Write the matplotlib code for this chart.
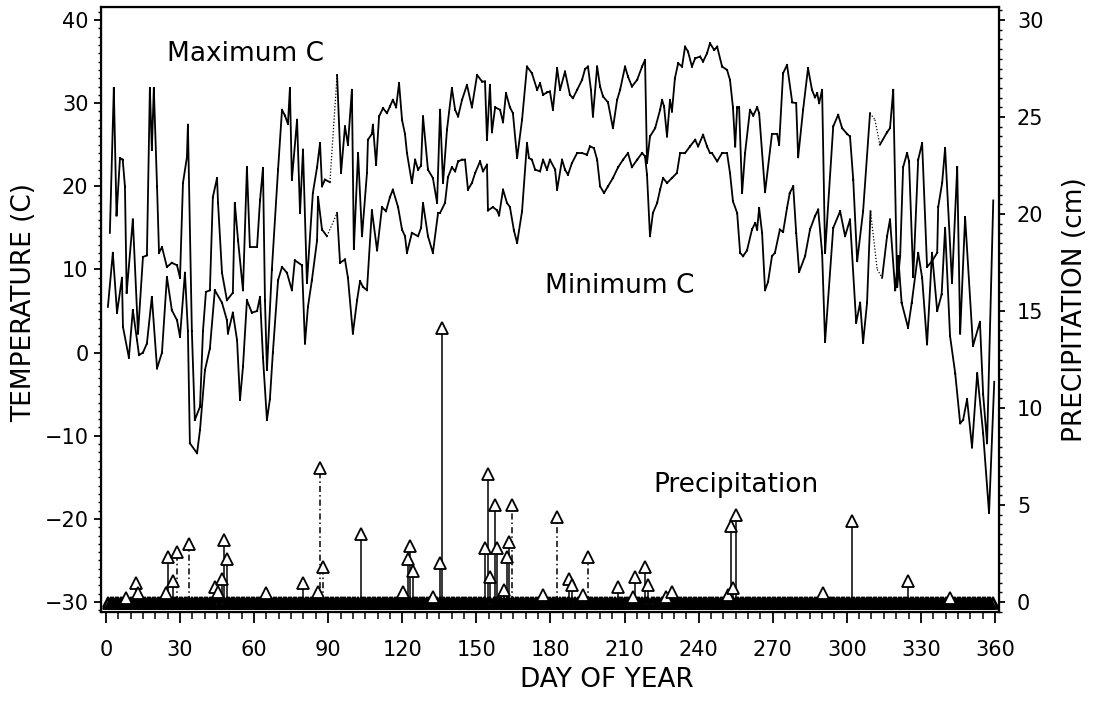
import matplotlib
matplotlib.use('Agg')
import matplotlib.pyplot as plt
import numpy as np
from matplotlib.ticker import MultipleLocator

plt.rcParams['font.family'] = ['DejaVu Sans']

# daily maximum temperature (C)
max_day = [1.6, 3.2, 4.3, 5.7, 6.8, 7.7, 8.4, 10.9, 13.0, 15.0,
           16.6, 17.8, 18.6, 19.4, 20.7, 21.5, 22.7, 24.7, 26.7, 28.8,
           30.0, 31.2, 32.8, 33.2, 34.8, 36.0, 38.1, 39.3, 40.5, 42.1,
           43.3, 45.0, 45.4, 47.0, 49.0, 51.4, 52.2, 53.5, 55.5, 57.1,
           58.3, 61.2, 62.4, 63.6, 64.4, 65.2, 67.2, 69.7, 71.3, 72.5,
           73.7, 74.5, 75.3, 77.4, 78.6, 79.8, 81.4, 83.8, 85.5, 86.7,
           87.5, 88.7, 90.7, 93.6, 95.2, 96.8, 98.0, 99.6, 100.4, 102.1,
           103.7, 105.7, 106.1, 107.7, 108.1, 109.4, 110.6, 112.2, 113.8, 115.0,
           116.2, 117.5, 118.7, 119.9, 121.1, 121.9, 123.9, 125.2, 126.4, 127.6,
           128.4, 130.4, 132.4, 134.1, 135.3, 136.5, 138.1, 140.1, 141.4, 142.6,
           144.2, 146.2, 148.2, 150.3, 152.3, 153.5, 154.3, 155.5, 156.3, 157.6,
           159.6, 160.8, 162.0, 163.6, 164.8, 166.5, 168.5, 170.5, 172.5, 174.6,
           175.8, 177.0, 178.6, 179.8, 181.0, 182.7, 183.9, 185.9, 187.9, 189.1,
           190.8, 192.8, 194.0, 195.2, 196.4, 197.2, 198.9, 200.1, 201.3, 203.3,
           205.3, 207.0, 208.2, 210.2, 211.4, 213.0, 215.1, 217.1, 218.3, 219.1,
           220.3, 222.4, 224.4, 225.2, 226.0, 227.2, 228.4, 229.2, 230.4, 231.7,
           233.3, 234.5, 235.7, 237.3, 238.6, 240.6, 241.8, 243.4, 244.6, 246.3,
           247.5, 249.5, 251.5, 252.7, 253.9, 254.8, 255.6, 256.4, 257.6, 258.8,
           260.8, 262.1, 263.7, 264.5, 266.9, 269.7, 271.8, 272.6, 274.2, 275.8,
           277.9, 279.5, 280.3, 282.3, 284.3, 285.9, 287.1, 288.0, 288.8, 290.0,
           291.2, 294.5, 296.5, 298.1, 300.1, 301.3, 302.6, 304.2, 306.6, 309.4,
           311.4, 313.4, 316.3, 317.5, 318.8, 320.4, 321.6, 322.8, 324.4, 325.2,
           326.9, 328.9, 330.5, 332.5, 334.5, 336.6, 337.0, 338.6, 339.8, 342.6,
           344.7, 345.9, 347.9, 351.1, 353.9, 355.2, 356.8, 359.3]
max_c = [14.4, 31.8, 16.5, 23.4, 23.2, 20.0, 7.2, 16.0, 2.3, 11.5,
         11.7, 31.8, 24.4, 31.8, 20.0, 12.0, 12.7, 10.3, 10.8, 10.5,
         9.0, 20.4, 23.5, 27.4, 2.6, -8.1, -6.5, 2.6, 7.3, 7.5,
         18.7, 21.0, 18.0, 9.6, 6.3, 7.2, 18.0, 13.5, 7.5, 22.3,
         12.7, 12.7, 18.3, 22.2, 6.3, -2.1, 10.0, 22.0, 29.2, 28.5,
         27.5, 31.8, 20.8, 28.0, 16.8, 24.4, 8.4, 19.2, 22.3, 25.2,
         20.0, 20.8, 20.5, 33.4, 21.6, 27.2, 25.0, 31.6, 12.5, 24.0,
         14.0, 21.6, 25.6, 26.3, 27.4, 22.6, 28.4, 29.4, 28.8, 29.6,
         30.4, 29.5, 32.4, 28.0, 26.3, 24.0, 20.4, 23.2, 22.0, 22.5,
         28.4, 22.0, 21.0, 18.0, 29.2, 20.4, 26.8, 31.8, 29.2, 28.4,
         30.4, 32.2, 29.5, 33.4, 32.6, 32.6, 25.6, 32.2, 26.5, 29.5,
         29.2, 27.7, 31.2, 29.5, 28.8, 23.4, 28.0, 34.4, 33.6, 31.6,
         32.4, 31.0, 31.3, 31.4, 29.2, 34.2, 31.6, 33.8, 31.0, 30.6,
         31.6, 32.8, 34.1, 34.4, 31.6, 28.4, 34.4, 32.0, 30.8, 30.1,
         27.0, 30.4, 31.6, 34.4, 33.2, 32.0, 32.8, 34.4, 35.2, 22.8,
         26.0, 27.0, 29.2, 30.4, 29.6, 26.0, 30.4, 29.0, 33.0, 34.8,
         34.4, 36.8, 36.2, 34.4, 35.4, 35.6, 35.0, 36.0, 37.2, 36.4,
         36.8, 34.4, 34.0, 32.8, 29.5, 24.8, 29.5, 29.5, 19.2, 24.0,
         29.2, 28.5, 29.5, 28.8, 19.3, 26.3, 26.3, 25.0, 33.6, 34.6,
         30.1, 30.0, 23.5, 29.2, 34.2, 31.6, 30.7, 31.2, 30.0, 31.6,
         12.0, 27.2, 28.6, 27.0, 26.3, 26.0, 20.8, 11.0, 17.0, 28.8,
         28.0, 25.0, 26.5, 27.0, 31.6, 7.9, 11.6, 22.3, 24.0, 23.0,
         9.1, 23.2, 25.2, 10.3, 11.0, 12.0, 17.5, 20.4, 24.6, 8.4,
         22.3, 2.3, 16.3, 0.8, 3.7, -5.0, -10.9, 18.3]

# daily minimum temperature (C)
min_day = [0.8, 2.8, 4.5, 6.5, 6.9, 9.3, 10.9, 12.6, 13.4, 15.0,
           16.6, 18.6, 20.7, 22.7, 24.7, 26.7, 28.8, 30.0, 32.0, 33.2,
           34.0, 36.9, 38.1, 40.1, 42.1, 44.1, 47.0, 49.0, 49.4, 51.4,
           53.1, 54.3, 55.5, 57.1, 59.1, 61.2, 62.4, 63.6, 65.2, 66.4,
           67.6, 69.7, 71.3, 73.3, 75.3, 76.5, 79.4, 80.6, 81.8, 83.4,
           85.5, 85.9, 87.5, 89.5, 93.6, 94.8, 96.8, 98.0, 100.0, 101.7,
           102.9, 104.1, 105.7, 107.7, 109.8, 111.8, 113.4, 115.0, 116.2, 118.3,
           119.9, 121.1, 121.9, 123.9, 126.4, 127.6, 128.4, 130.4, 132.4, 134.5,
           135.3, 137.3, 138.5, 140.1, 141.4, 142.6, 144.2, 145.4, 146.6, 148.2,
           149.5, 151.5, 152.7, 154.3, 154.7, 156.7, 158.4, 159.2, 160.8, 162.4,
           163.6, 165.2, 166.5, 168.5, 170.5, 171.3, 172.5, 173.8, 175.8, 177.0,
           178.6, 179.8, 181.9, 182.7, 184.7, 185.9, 187.1, 188.7, 190.8, 192.8,
           194.8, 196.0, 197.6, 198.9, 200.1, 201.7, 203.3, 205.3, 207.4, 209.4,
           211.4, 213.0, 215.1, 217.1, 218.3, 219.1, 220.3, 221.5, 223.2, 224.4,
           225.6, 227.2, 229.2, 231.2, 232.5, 234.5, 236.5, 238.6, 239.8, 241.8,
           243.4, 244.6, 245.4, 247.5, 249.5, 251.5, 252.7, 253.9, 255.6, 256.8,
           258.0, 259.6, 261.6, 262.9, 263.7, 264.5, 265.7, 266.9, 268.1, 269.7,
           270.9, 272.9, 274.2, 275.8, 276.9, 278.3, 279.5, 280.7, 283.1, 285.1,
           287.1, 288.4, 290.0, 291.2, 294.5, 297.3, 299.3, 301.3, 303.8, 305.4,
           306.6, 308.2, 309.6, 312.3, 314.3, 316.3, 317.5, 319.6, 320.8, 322.2,
           324.8, 326.3, 328.9, 330.5, 332.5, 334.5, 336.6, 338.4, 339.8, 341.8,
           343.9, 345.9, 347.1, 348.7, 350.7, 352.8, 355.2, 357.6, 359.7]
min_c = [5.5, 12.0, 4.8, 9.0, 3.1, -0.6, 5.1, 1.5, -0.3, 0.0,
         1.1, 6.7, -1.9, 0.0, 9.1, 5.1, 3.9, 1.9, 9.6, 2.6,
         -10.9, -12.1, -9.3, -2.1, 0.5, 7.5, 6.0, 3.9, 2.3, 4.8,
         1.5, -5.7, -1.7, 6.3, 4.8, 5.0, 6.7, -0.6, -8.1, -5.6,
         0.0, 8.7, 10.3, 9.6, 7.5, 11.1, 10.5, 1.1, 5.5, 8.7,
         13.5, 18.7, 14.8, 14.0, 16.8, 10.8, 11.2, 9.0, 2.3, 6.3,
         8.6, 7.9, 7.5, 17.1, 12.3, 17.5, 17.0, 18.7, 19.6, 17.5,
         14.8, 14.0, 12.0, 14.4, 14.0, 15.0, 18.0, 14.0, 12.0, 16.8,
         16.8, 18.0, 21.1, 22.3, 21.8, 23.0, 23.2, 23.2, 19.6, 20.4,
         21.6, 23.0, 21.8, 22.6, 17.1, 17.5, 17.1, 16.5, 19.6, 18.0,
         17.5, 14.7, 13.2, 17.0, 25.2, 23.4, 23.2, 22.0, 21.8, 23.2,
         22.0, 23.2, 22.0, 19.6, 23.2, 22.0, 21.4, 22.8, 24.0, 24.0,
         23.8, 24.8, 24.6, 23.2, 20.0, 19.2, 20.0, 21.0, 22.3, 23.2,
         24.0, 22.3, 23.2, 24.0, 23.6, 21.4, 14.0, 16.8, 18.0, 19.6,
         21.0, 20.4, 21.0, 21.6, 24.0, 24.0, 24.8, 25.6, 24.8, 26.2,
         24.8, 24.0, 24.0, 23.0, 24.0, 24.0, 21.6, 18.2, 16.8, 12.0,
         11.6, 12.3, 14.8, 15.6, 14.8, 17.4, 14.4, 7.5, 8.5, 11.6,
         12.0, 14.8, 14.5, 17.4, 19.2, 20.0, 14.4, 9.7, 11.6, 14.8,
         16.4, 17.2, 12.0, 1.3, 15.0, 17.0, 14.0, 16.0, 3.6, 6.0,
         1.2, 6.0, 17.0, 10.0, 9.0, 14.0, 16.0, 7.5, 11.6, 6.0,
         3.0, 6.0, 12.0, 9.0, 1.0, 12.0, 5.0, 7.0, 15.0, 2.0,
         -2.5, -8.5, -8.1, -5.6, -11.4, -2.5, -9.7, -19.3, -3.5]

# stretches drawn dotted (missing / estimated records)
dotted_spans = [(89.5, 93.6), (309.4, 314.3)]

# precipitation events (cm)
rain_day = [8.0, 12.2, 13.0, 24.3, 25.2, 27.3, 28.6, 33.7, 44.0, 45.5,
            47.0, 47.9, 49.0, 64.8, 79.8, 85.9, 86.7, 87.9, 103.3, 120.3,
            122.3, 123.1, 124.3, 132.4, 135.2, 136.0, 153.5, 154.7, 155.5, 157.6,
            158.4, 161.2, 162.4, 163.2, 164.4, 177.0, 182.7, 187.5, 188.7, 193.2,
            195.2, 207.4, 213.4, 214.3, 218.3, 219.5, 226.8, 229.3, 252.0, 253.1,
            254.0, 255.2, 290.4, 302.0, 324.8, 341.8]
rain_cm = [0.2, 1.0, 0.45, 0.45, 2.3, 1.1, 2.6, 3.0, 0.8, 0.5,
           1.2, 3.2, 2.2, 0.45, 1.0, 0.5, 6.9, 1.8, 3.5, 0.5,
           2.2, 2.9, 1.6, 0.25, 2.0, 14.1, 2.8, 6.6, 1.3, 5.0,
           2.8, 0.6, 2.3, 3.1, 5.0, 0.35, 4.4, 1.2, 0.9, 0.35,
           2.3, 0.8, 0.26, 1.3, 1.8, 0.9, 0.26, 0.5, 0.35, 3.9,
           0.7, 4.5, 0.45, 4.2, 1.1, 0.2]
rain_dashed_day = [28.6, 33.7, 86.7, 87.9, 164.4, 182.7, 195.2]
record_days = np.arange(1, 360)


def split_dotted(d, v, spans):
    solid_x, solid_y, dot_x, dot_y = [], [], [], []
    for i in range(len(d) - 1):
        inside = any(a <= d[i] and d[i + 1] <= b for a, b in spans)
        xs, ys = (dot_x, dot_y) if inside else (solid_x, solid_y)
        xs += [d[i], d[i + 1], np.nan]
        ys += [v[i], v[i + 1], np.nan]
    return solid_x, solid_y, dot_x, dot_y


def c_to_cm(t):
    return (t + 30) * 3 / 7


fig = plt.figure(figsize=(10.94, 7.12), dpi=100)
ax = fig.add_axes([0.0923, 0.1404, 0.8208, 0.8497])

for d, v in [(max_day, max_c), (min_day, min_c)]:
    sx, sy, dx, dy = split_dotted(d, v, dotted_spans)
    ax.plot(sx, sy, color='black', lw=1.3, solid_joinstyle='miter')
    ax.plot(dx, dy, color='black', lw=0.9, ls=(0, (1, 1.5)))

tmin, tmax = -31.2, 41.56
ax.set_xlim(-2, 361.6)
ax.set_ylim(tmin, tmax)
ax.set_xticks(range(0, 361, 30))
ax.xaxis.set_minor_locator(MultipleLocator(5))
ax.set_yticks(range(-30, 41, 10))
ax.yaxis.set_minor_locator(MultipleLocator(1))
ax.tick_params(axis='x', which='major', length=8, width=1.3, pad=12, labelsize=15)
ax.tick_params(axis='x', which='minor', length=5, width=1.1)
ax.tick_params(axis='y', which='major', length=5, width=1.3, pad=4, labelsize=15)
ax.tick_params(axis='y', which='minor', length=2.5, width=1.0)
for s in ax.spines.values():
    s.set_linewidth(1.6)

ax2 = ax.twinx()
ax2.set_ylim(c_to_cm(tmin), c_to_cm(tmax))
ax2.set_yticks(range(0, 31, 5))
ax2.yaxis.set_minor_locator(MultipleLocator(0.5))
ax2.tick_params(axis='y', which='major', length=4, width=1.3, pad=9, labelsize=15)
ax2.tick_params(axis='y', which='minor', length=2.5, width=1.0)

# zero-precipitation markers (open, overlapping) form the dark band along the bottom
rain_round = [round(r) for r in rain_day]
dry = np.array([d for d in record_days if d not in rain_round])
for off in (0.0, -0.12):
    ax2.plot(dry, np.full(len(dry), off), ls='none', marker='^', ms=7,
             mfc='none', mec='black', mew=1.3)
    ax2.plot(rain_day, np.full(len(rain_day), off), ls='none', marker='^',
             ms=7, mfc='none', mec='black', mew=1.3)
ax2.plot([record_days[0], record_days[-1]], [-0.25, -0.25], color='black', lw=1.4)

for d, p in zip(rain_day, rain_cm):
    style = (0, (4, 2, 1, 2)) if d in rain_dashed_day else '-'
    ax2.plot([d, d], [0, p], color='black', lw=1.1, ls=style)
ax2.plot(rain_day, rain_cm, ls='none', marker='^', ms=8, mfc='white',
         mec='black', mew=1.3)

fig.text(24 / 1094, 1 - 302 / 712, 'TEMPERATURE (C)', rotation=90,
         ha='center', va='center', fontsize=19)
fig.text(1075 / 1094, 1 - 310 / 712, 'PRECIPITATION (cm)', rotation=90,
         ha='center', va='center', fontsize=19)
fig.text(607 / 1094, 1 - 680 / 712, 'DAY OF YEAR', ha='center', va='center',
         fontsize=19)
fig.text(167 / 1094, 1 - 54 / 712, 'Maximum C', ha='left', va='center', fontsize=19)
fig.text(545 / 1094, 1 - 286 / 712, 'Minimum C', ha='left', va='center', fontsize=19)
fig.text(653 / 1094, 1 - 485 / 712, 'Precipitation', ha='left', va='center',
         fontsize=19)

fig.savefig('out.png', dpi=100)
